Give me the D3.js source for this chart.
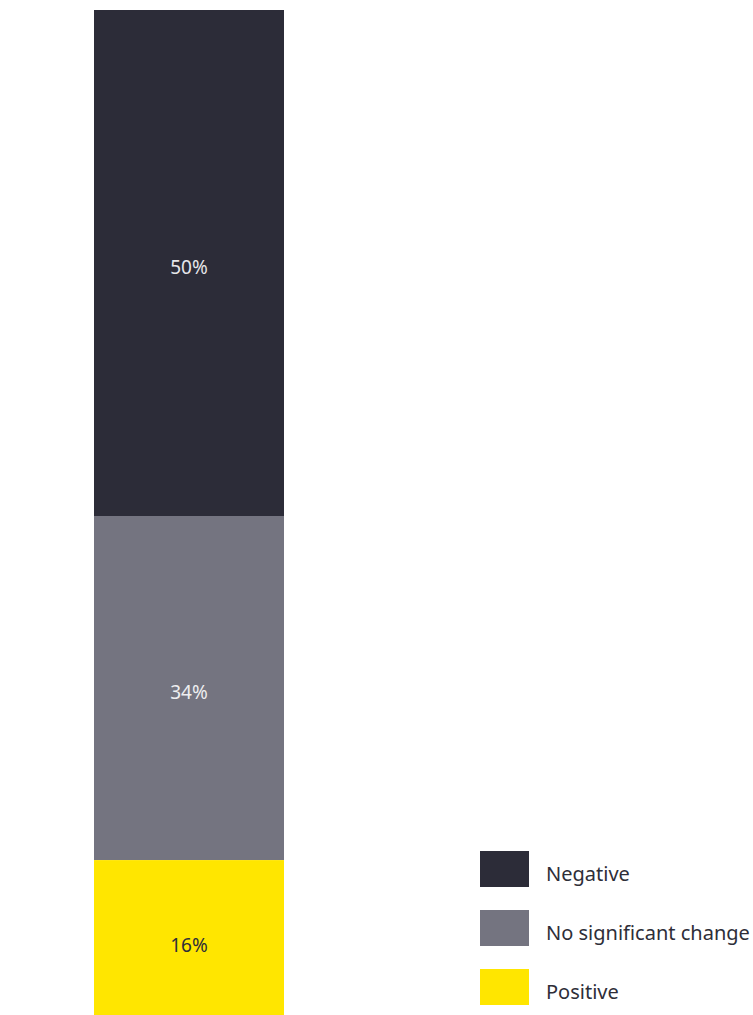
<!DOCTYPE html>
<html>
<head>
<meta charset="utf-8">
<script src="https://cdn.jsdelivr.net/npm/d3@7"></script>
<style>
  html, body { margin: 0; padding: 0; background: #ffffff; }
  svg { display: block; }
</style>
</head>
<body>
<svg id="chart" width="753" height="1015"></svg>
<script>
// Share of responses by impact category, stacked from the top
const categories = ["Negative", "No significant change", "Positive"];
const values = [50, 34, 16];
const valueLabels = ["50%", "34%", "16%"];
const colors = ["#2c2c38", "#747480", "#ffe600"];
const labelColors = ["#e6e6ea", "#eeeef0", "#2e2e38"];

const svg = d3.select("#chart");
const fontFamily = "'Noto Sans', 'Open Sans', sans-serif";

// Stack layout: cumulative start/end for each segment
let acc = 0;
const segments = categories.map((c, i) => {
  const s = { category: c, value: values[i], label: valueLabels[i], y0: acc, y1: acc + values[i], i };
  acc += values[i];
  return s;
});

const y = d3.scaleLinear().domain([0, 100]).range([10, 1022]);
const x = d3.scaleBand().domain(["all"]).range([94, 284]).padding(0);

const bar = svg.append("g");
bar.selectAll("rect")
  .data(segments)
  .join("rect")
  .attr("x", x("all"))
  .attr("width", x.bandwidth())
  .attr("y", d => y(d.y0))
  .attr("height", d => y(d.y1) - y(d.y0))
  .attr("fill", d => colors[d.i]);

bar.selectAll("text")
  .data(segments)
  .join("text")
  .attr("x", x("all") + x.bandwidth() / 2)
  .attr("y", d => (y(d.y0) + y(d.y1)) / 2 + 4)
  .attr("text-anchor", "middle")
  .attr("dominant-baseline", "central")
  .attr("font-family", fontFamily)
  .attr("font-size", 19)
  .attr("fill", d => labelColors[d.i])
  .text(d => d.label);

// Legend
const legend = svg.append("g").attr("transform", "translate(480,851)");
const item = legend.selectAll("g")
  .data(categories)
  .join("g")
  .attr("transform", (d, i) => `translate(0,${i * 59})`);

item.append("rect")
  .attr("width", 49)
  .attr("height", 36)
  .attr("fill", (d, i) => colors[i]);

item.append("text")
  .attr("x", 66)
  .attr("y", 25)
  .attr("dominant-baseline", "middle")
  .attr("font-family", fontFamily)
  .attr("font-size", 20)
  .attr("fill", "#2e2e38")
  .text(d => d);
</script>
</body>
</html>
